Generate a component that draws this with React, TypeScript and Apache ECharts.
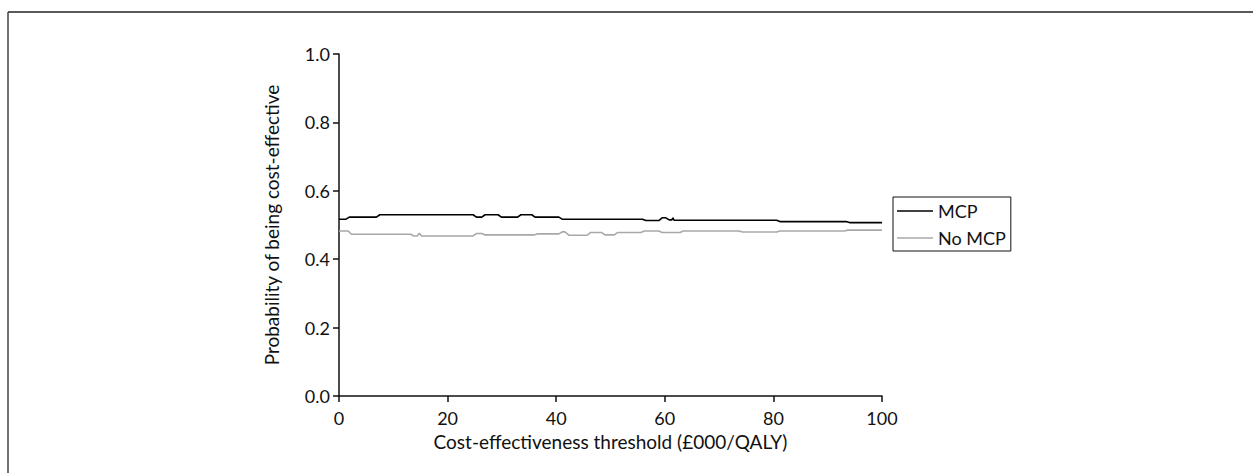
import React, { useEffect, useRef } from "react";
import * as echarts from "echarts";

const seriesNames = ["MCP", "No MCP"];
const xTicks = [0, 20, 40, 60, 80, 100];
const yTicks = [0, 0.2, 0.4, 0.6, 0.8, 1.0];

const mcpX = [0, 1.3, 1.9, 6.9, 7.5, 24.7, 25.3, 26.3, 26.9, 29.3, 29.9, 32.9, 33.5, 35.5, 36.1, 40.5, 41.1, 55.9, 56.5, 58.9, 59.5, 60.2, 60.8, 61.3, 61.5, 61.7, 62.0, 80.6, 81.2, 93.4, 94.0, 100];
const mcpY = [0.517, 0.517, 0.523, 0.523, 0.53, 0.53, 0.523, 0.523, 0.53, 0.53, 0.523, 0.523, 0.53, 0.53, 0.523, 0.523, 0.517, 0.517, 0.513, 0.513, 0.521, 0.521, 0.515, 0.515, 0.521, 0.514, 0.514, 0.514, 0.51, 0.51, 0.507, 0.507];

const noMcpX = [0, 1.7, 2.3, 13.2, 13.8, 14.4, 14.8, 15.2, 24.7, 25.3, 26.3, 26.9, 35.9, 36.5, 40.5, 41.1, 41.6, 42.4, 45.7, 46.3, 48.4, 49.0, 50.7, 51.3, 55.6, 56.2, 58.9, 59.5, 62.8, 63.4, 73.7, 74.3, 80.6, 81.2, 93.1, 93.7, 100];
const noMcpY = [0.4825, 0.4825, 0.473, 0.473, 0.468, 0.468, 0.476, 0.468, 0.468, 0.475, 0.475, 0.471, 0.471, 0.474, 0.474, 0.48, 0.48, 0.47, 0.47, 0.478, 0.478, 0.471, 0.471, 0.478, 0.478, 0.4825, 0.4825, 0.478, 0.478, 0.4825, 0.4825, 0.4795, 0.4795, 0.4825, 0.4825, 0.485, 0.485];

const FONT = "Lato";
const FS = 18;

export default function App() {
  const ref = useRef<HTMLDivElement>(null);
  useEffect(() => {
    if (!ref.current) return;
    const chart = echarts.init(ref.current, null, { renderer: "svg" });
    const axisLine = { show: true, lineStyle: { color: "#111", width: 1.5 } };
    chart.setOption({
      animation: false,
      backgroundColor: "#fff",
      textStyle: { fontFamily: FONT },
      grid: { left: 339, right: 371, top: 54, bottom: 77, containLabel: false },
      graphic: [
        { type: "line", shape: { x1: 8, y1: 12, x2: 1253, y2: 12 }, style: { stroke: "#222", lineWidth: 1.5 } },
        { type: "line", shape: { x1: 8, y1: 12, x2: 8, y2: 473 }, style: { stroke: "#444", lineWidth: 1.5 } },
      ],
      legend: {
        orient: "vertical",
        left: 893,
        top: 197,
        icon: "rect",
        itemWidth: 36,
        itemHeight: 1.6,
        itemGap: 9,
        padding: [5, 5, 4, 4],
        borderColor: "#111",
        borderWidth: 1,
        textStyle: { fontFamily: FONT, fontSize: FS, color: "#111" },
        data: seriesNames,
      },
      xAxis: {
        type: "value",
        min: 0,
        max: 100,
        interval: 20,
        name: "Cost-effectiveness threshold (£000/QALY)",
        nameLocation: "middle",
        nameGap: 35,
        nameTextStyle: { fontFamily: FONT, fontSize: 19, color: "#111" },
        axisLine,
        axisTick: { show: true, length: 6, lineStyle: { color: "#111", width: 1.5 } },
        axisLabel: { fontFamily: FONT, fontSize: FS, color: "#111", margin: 13, formatter: (v: number) => (xTicks.includes(v) ? String(v) : "") },
        splitLine: { show: false },
      },
      yAxis: {
        type: "value",
        min: 0,
        max: 1,
        interval: 0.2,
        name: "Probability of being cost-effective",
        nameLocation: "middle",
        nameGap: 58,
        nameTextStyle: { fontFamily: FONT, fontSize: 19, color: "#111" },
        axisLine,
        axisTick: { show: true, length: 6, lineStyle: { color: "#111", width: 1.5 } },
        axisLabel: { fontFamily: FONT, fontSize: FS, color: "#111", margin: 9, formatter: (v: number) => { const t = yTicks.find((y) => Math.abs(y - v) < 1e-6); return t === undefined ? "" : t.toFixed(1); } },
        splitLine: { show: false },
      },
      series: [
        {
          name: seriesNames[0],
          type: "line",
          symbol: "none",
          data: mcpX.map((x, i) => [x, mcpY[i]]),
          lineStyle: { color: "#000", width: 1.6 },
          itemStyle: { color: "#000" },
        },
        {
          name: seriesNames[1],
          type: "line",
          symbol: "none",
          data: noMcpX.map((x, i) => [x, noMcpY[i]]),
          lineStyle: { color: "#a8a8a8", width: 1.6 },
          itemStyle: { color: "#a8a8a8" },
        },
      ],
    });
    return () => chart.dispose();
  }, []);
  return <div ref={ref} style={{ position: "fixed", left: 0, top: 0, width: 1253, height: 473 }} />;
}
